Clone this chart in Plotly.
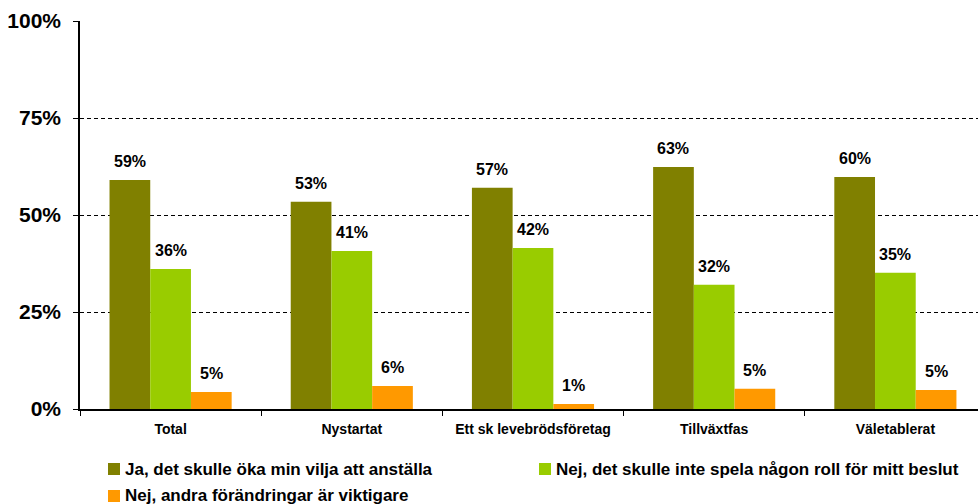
import plotly.graph_objects as go

categories = ["Total", "Nystartat", "Ett sk levebrödsföretag", "Tillväxtfas", "Väletablerat"]
series_names = [
    "Ja, det skulle öka min vilja att anställa",
    "Nej, det skulle inte spela någon roll för mitt beslut",
    "Nej, andra förändringar är viktigare",
]
ja_values = [59.0, 53.4, 57.0, 62.4, 59.8]
nej_roll_values = [36.1, 40.7, 41.5, 32.0, 35.1]
nej_andra_values = [4.4, 5.9, 1.3, 5.2, 4.9]
ja_labels = ["59%", "53%", "57%", "63%", "60%"]
nej_roll_labels = ["36%", "41%", "42%", "32%", "35%"]
nej_andra_labels = ["5%", "6%", "1%", "5%", "5%"]
colors = ["#808000", "#99CC00", "#FF9900"]
y_ticks = [0, 25, 50, 75, 100]
y_tick_labels = ["0%", "25%", "50%", "75%", "100%"]

values = [ja_values, nej_roll_values, nej_andra_values]
labels = [ja_labels, nej_roll_labels, nej_andra_labels]

FONT = "Liberation Sans, Arial, sans-serif"
W, H = 978, 504
ML, MR, MT, MB = 80, 0, 21, 95
PW, PH = W - ML - MR, H - MT - MB
bargap = 0.326
bar_w = (1 - bargap) / 3


def px_to_paper(px, py):
    return (px - ML) / PW, (H - MB - py) / PH


fig = go.Figure()
for k in range(3):
    fig.add_trace(go.Bar(
        x=categories, y=values[k], name=series_names[k],
        marker=dict(color=colors[k], line=dict(width=0)),
        showlegend=False, hoverinfo="skip",
    ))

annotations = []
for k in range(3):
    off = (k - 1) * bar_w
    for i in range(len(categories)):
        annotations.append(dict(
            x=i + off, y=values[k][i], xref="x", yref="y",
            text="<b>%s</b>" % labels[k][i], showarrow=False,
            yanchor="bottom", xanchor="center", yshift=8,
            font=dict(family=FONT, size=16, color="#000000"),
        ))

# legend (drawn manually to match the original layout)
legend_slots = [(108, 463, 469.5), (539, 463, 469.5), (108, 490, 495)]
shapes = []
for k, (sx, sy, ty) in enumerate(legend_slots):
    x0, y1 = px_to_paper(sx, sy)
    x1, y0 = px_to_paper(sx + 12, sy + 12)
    shapes.append(dict(type="rect", xref="paper", yref="paper",
                       x0=x0, x1=x1, y0=y0, y1=y1,
                       fillcolor=colors[k], line=dict(width=0)))
    tx, tyy = px_to_paper(sx + 15, ty)
    annotations.append(dict(
        x=tx, y=tyy, xref="paper", yref="paper",
        text="<b>%s</b>" % series_names[k], showarrow=False,
        xanchor="left", yanchor="middle",
        font=dict(family=FONT, size=17, color="#000000"),
    ))

fig.update_layout(
    width=W, height=H,
    margin=dict(l=ML, r=MR, t=MT, b=MB, autoexpand=False),
    paper_bgcolor="white", plot_bgcolor="white",
    barmode="group", bargap=bargap, bargroupgap=0,
    font=dict(family=FONT, color="#000000"),
    annotations=annotations, shapes=shapes,
    showlegend=False,
)
fig.update_xaxes(
    type="category", range=[-0.5, 4.456], automargin=False,
    showline=True, linecolor="#000000", linewidth=1.5,
    ticks="outside", tickson="boundaries", ticklen=5, tickcolor="#000000",
    ticklabelstandoff=6,
    tickfont=dict(family=FONT, size=14, color="#000000", weight="bold"),
    showgrid=False, zeroline=False,
)
fig.update_yaxes(
    range=[0, 100], tickvals=y_ticks, ticktext=y_tick_labels, automargin=False,
    showline=True, linecolor="#000000", linewidth=1.5,
    ticks="outside", ticklen=5, tickcolor="#000000",
    ticklabelstandoff=8,
    tickfont=dict(family=FONT, size=21, color="#000000", weight="bold"),
    showgrid=True, gridcolor="#000000", gridwidth=1, griddash="4px,3px",
    zeroline=False,
)

fig.write_html(
    "out.html",
    config={"displayModeBar": False},
    post_script="document.body.style.margin='0';document.body.style.overflow='hidden';",
)
